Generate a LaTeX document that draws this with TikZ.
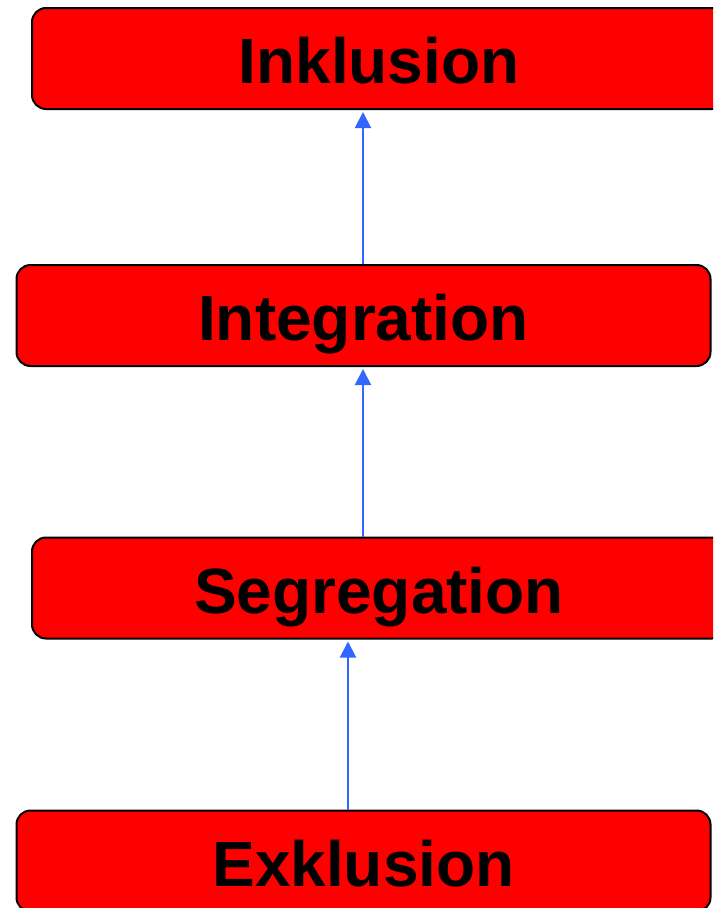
\documentclass[tikz,border=0pt]{standalone}
\usepackage{fontspec}
\setmainfont{Liberation Sans}
\usetikzlibrary{arrows.meta}

\definecolor{stufeblau}{HTML}{3366FF}

\tikzset{
    stufe/.style={draw=black, line width=2pt, fill=red, rounded corners=14pt,
        minimum width=694pt, minimum height=101pt, inner sep=0pt,
        text height=50pt, text depth=0pt,
        font=\fontsize{64}{70}\selectfont\bfseries},
    pfeil/.style={draw=stufeblau, line width=2pt, -{Triangle[width=16pt,length=16pt]}, shorten >=2pt}
}

\begin{document}
\begin{tikzpicture}[x=1pt, y=-1pt]
        \useasboundingbox (0,0) rectangle (713,908);
        \clip (0,0) rectangle (713,908);
        
        \node[stufe] (inkl) at (379,58.5) {Inklusion};
        \node[stufe] (integ) at (363.5,315.5) {Integration};
        \node[stufe] (segr) at (379,588) {Segregation};
        \node[stufe] (exkl) at (363.5,861) {Exklusion};
        
        \coordinate (integ-top) at ([xshift=-0.5pt]integ.north);
        \coordinate (integ-bot) at ([xshift=-0.5pt]integ.south);
        \coordinate (exkl-top) at ([xshift=-15.5pt]exkl.north);
        
        \draw[pfeil] (integ-top) -- (integ-top |- inkl.south);
        \draw[pfeil] (integ-bot |- segr.north) -- (integ-bot);
        \draw[pfeil] (exkl-top) -- (exkl-top |- segr.south);
    \end{tikzpicture}
\end{document}
